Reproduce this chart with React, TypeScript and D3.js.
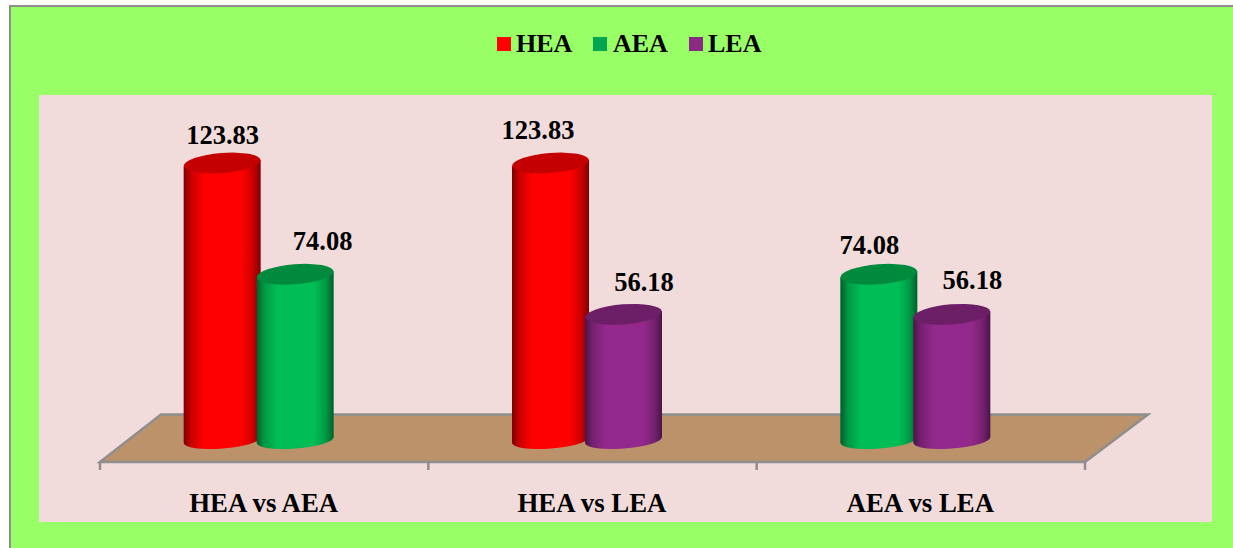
import React from "react";
import * as d3 from "d3";

const categories = ["HEA vs AEA", "HEA vs LEA", "AEA vs LEA"];
const seriesNames = ["HEA", "AEA", "LEA"];
const group1Values = [123.83, 74.08];
const group2Values = [123.83, 56.18];
const group3Values = [74.08, 56.18];
const group1Series = ["HEA", "AEA"];
const group2Series = ["HEA", "LEA"];
const group3Series = ["AEA", "LEA"];

const palette: Record<string, { legend: string; top: string; edge: string; mid: string }> = {
  HEA: { legend: "#FF0000", top: "#C40000", edge: "#7E0000", mid: "#FF0000" },
  AEA: { legend: "#00A651", top: "#008A3E", edge: "#005F2B", mid: "#00BE55" },
  LEA: { legend: "#8B2A83", top: "#6C1F66", edge: "#4A1449", mid: "#93298C" },
};

// hand-placed label nudges, in the same order as the groups
const labelNudges = [
  [{ dx: 0.5, dy: -19 }, { dx: 27.5, dy: -24 }],
  [{ dx: -12.5, dy: -24 }, { dx: 20.5, dy: -23 }],
  [{ dx: -9.5, dy: -20 }, { dx: 20.5, dy: -25 }],
];

const W = 1233;
const H = 548;
const FONT = "'Liberation Serif','Times New Roman',serif";
const floor = { backY: 414.5, frontY: 462, frontL: 100, frontR: 1085, backL: 161, backR: 1148 };
const rx = 38.5;
const ryTop = 10;
const ryBase = 8.5;
const tilt = 3;
const rot = -4.5;

export default function App() {
  const x = d3.scaleBand<string>().domain(categories).range([floor.frontL, floor.frontR]);
  const y = d3.scaleLinear().domain([0, 123.83]).range([440, 163]);
  const inner = d3.scaleBand<number>().domain([0, 1]).range([-73, 73]);
  const ticks = [...categories.map((c) => x(c) as number), floor.frontR];
  const groups = [
    { s: group1Series, v: group1Values },
    { s: group2Series, v: group2Values },
    { s: group3Series, v: group3Values },
  ];
  const floorPath = d3.path();
  floorPath.moveTo(floor.frontL, floor.frontY);
  floorPath.lineTo(floor.backL, floor.backY);
  floorPath.lineTo(floor.backR, floor.backY);
  floorPath.lineTo(floor.frontR, floor.frontY);
  floorPath.closePath();

  const legendX = [497, 593, 689];
  const legendTextX = [516, 613, 708];

  return (
    <svg
      width={W}
      height={H}
      viewBox={`0 0 ${W} ${H}`}
      style={{ position: "fixed", left: 0, top: 0, display: "block" }}
    >
      <defs>
        {seriesNames.map((n) => {
          const mix = d3.interpolateRgb(palette[n].edge, palette[n].mid);
          return (
            <linearGradient key={n} id={`grad-${n}`} x1="0" x2="1" y1="0" y2="0">
              <stop offset="0" stopColor={palette[n].edge} />
              <stop offset="0.1" stopColor={mix(0.6)} />
              <stop offset="0.27" stopColor={palette[n].mid} />
              <stop offset="0.75" stopColor={palette[n].mid} />
              <stop offset="0.9" stopColor={mix(0.6)} />
              <stop offset="1" stopColor={palette[n].edge} />
            </linearGradient>
          );
        })}
      </defs>
      <rect x={0} y={0} width={W} height={H} fill="#fff" />
      <rect x={10} y={6} width={W - 10} height={H - 6} fill="#99FF66" />
      <path d={`M10,${H}V6H${W}`} fill="none" stroke="#8E8E8E" strokeWidth={2} />
      <rect x={39} y={95} width={1173} height={427} fill="#F2DCDB" />

      {seriesNames.map((n, i) => (
        <g key={n}>
          <rect x={legendX[i]} y={37} width={14} height={14} fill={palette[n].legend} />
          <text x={legendTextX[i]} y={52} fontFamily={FONT} fontWeight="bold" fontSize={26} fill="#000">
            {n}
          </text>
        </g>
      ))}

      <path d={floorPath.toString()} fill="#BC926B" stroke="#8E8E8E" strokeWidth={2.5} />
      {ticks.map((t, i) => (
        <line key={i} x1={t} x2={t} y1={floor.frontY} y2={470} stroke="#8E8E8E" strokeWidth={2.5} />
      ))}

      {categories.map((c, gi) => {
        const cx = (x(c) as number) + x.bandwidth() / 2 - 5.5;
        return (
          <g key={c}>
            {groups[gi].v.map((v, i) => {
              const name = groups[gi].s[i];
              const bx = cx + (inner(i) as number) + inner.bandwidth() / 2;
              const top = y(v);
              const base = y(0);
              const side = `M${bx - rx},${top + tilt}L${bx - rx},${base + tilt}A${rx},${ryBase} ${rot} 0 0 ${bx + rx},${base - tilt}L${bx + rx},${top - tilt}Z`;
              return (
                <g key={i}>
                  <path d={side} fill={`url(#grad-${name})`} />
                  <ellipse
                    cx={bx}
                    cy={top}
                    rx={rx}
                    ry={ryTop}
                    fill={palette[name].top}
                    transform={`rotate(${rot} ${bx} ${top})`}
                  />
                  <text
                    x={bx + labelNudges[gi][i].dx}
                    y={top + labelNudges[gi][i].dy}
                    textAnchor="middle"
                    fontFamily={FONT}
                    fontWeight="bold"
                    fontSize={26.5}
                    fill="#000"
                  >
                    {v.toFixed(2)}
                  </text>
                </g>
              );
            })}
            <text
              x={(x(c) as number) + x.bandwidth() / 2 - 0.5}
              y={512}
              textAnchor="middle"
              fontFamily={FONT}
              fontWeight="bold"
              fontSize={26.8}
              fill="#000"
            >
              {c}
            </text>
          </g>
        );
      })}
    </svg>
  );
}
